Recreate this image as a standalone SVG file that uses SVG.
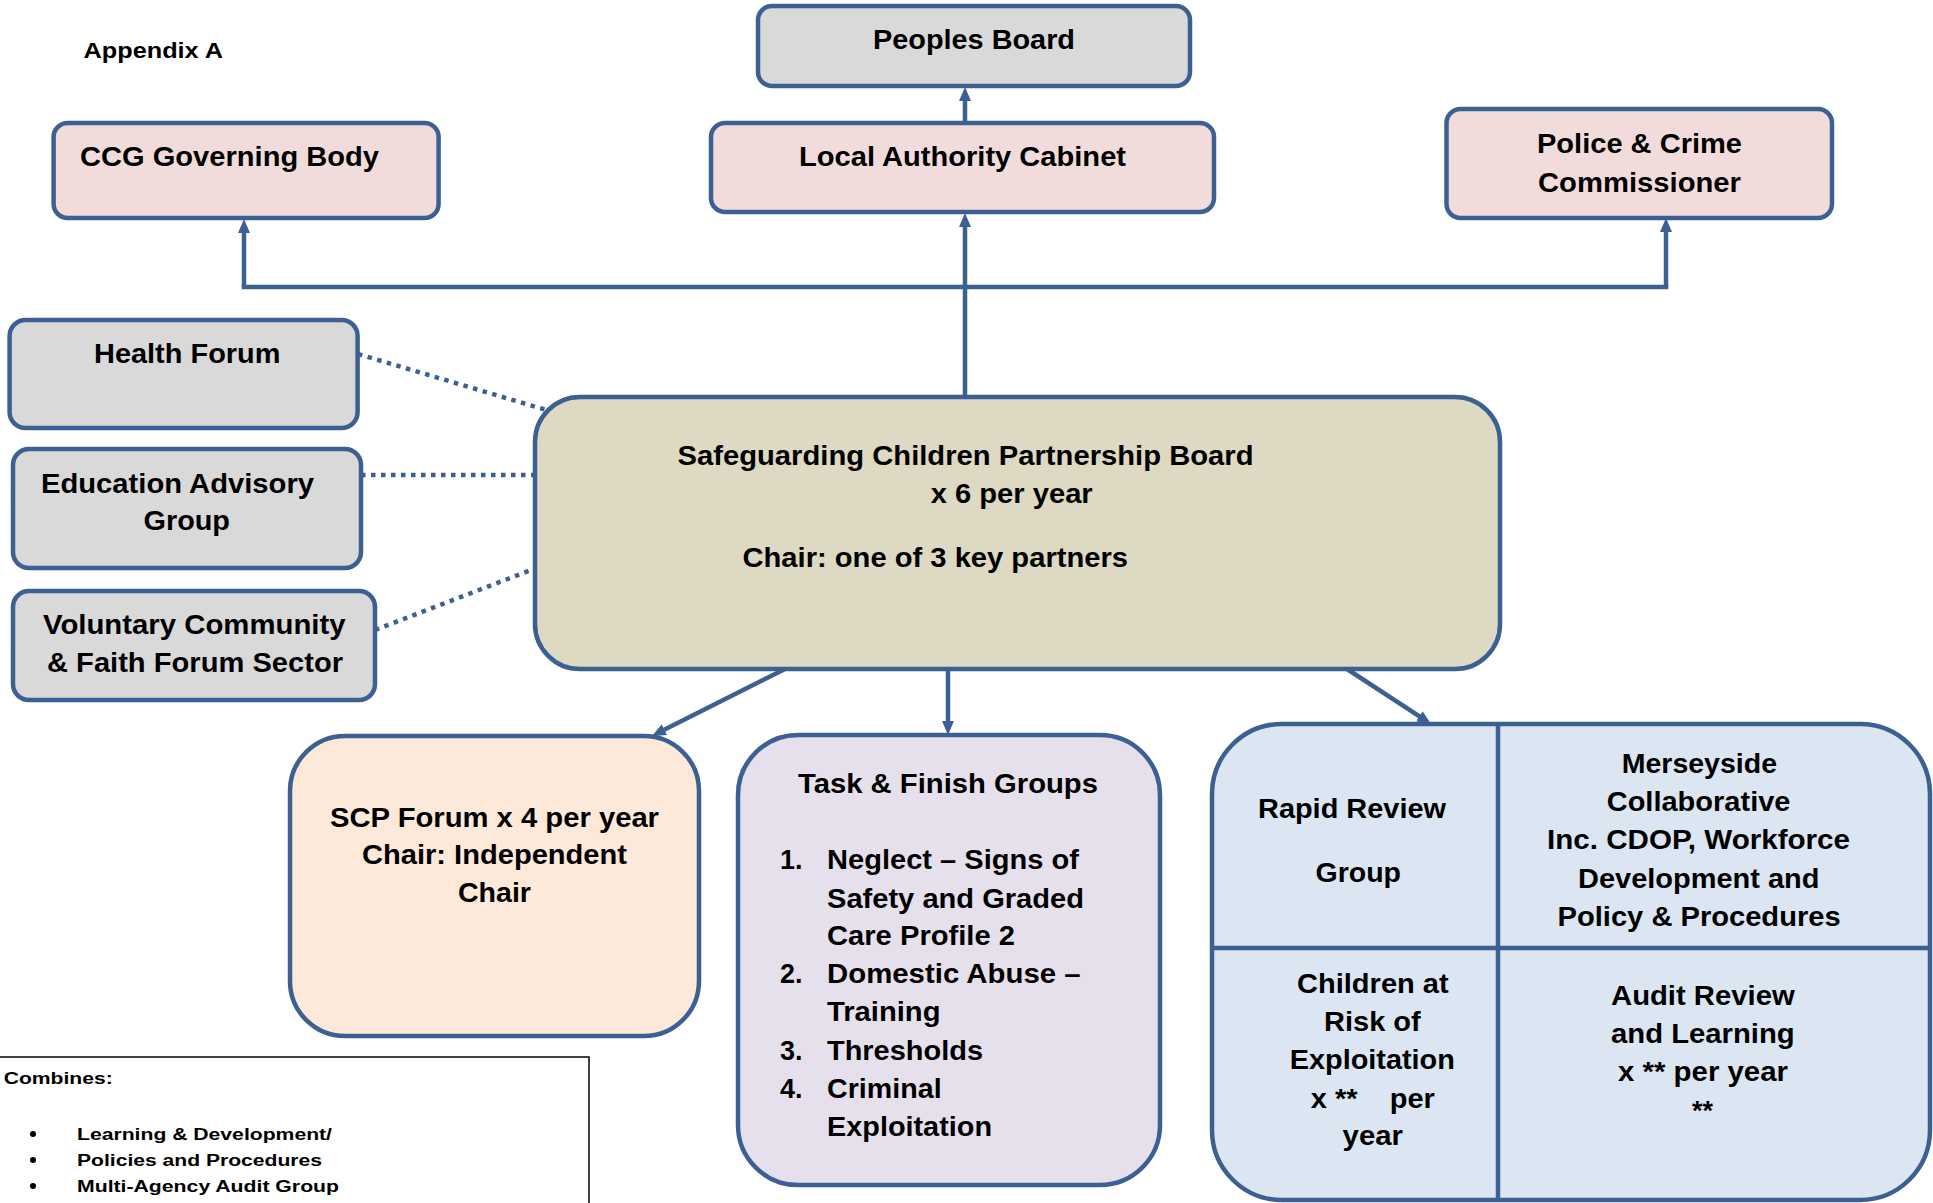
<svg xmlns="http://www.w3.org/2000/svg" width="1933" height="1203" viewBox="0 0 1933 1203">
<defs>
<style>
.box{stroke:#3B6091;stroke-width:4.5}
.pink{fill:#F2DCDB}
.grey{fill:#D9D9D9}
.tan{fill:#DDD9C3}
.peach{fill:#FDE9D9}
.lav{fill:#E6E0EC}
.blue{fill:#DCE6F2}
text{font-family:"Liberation Sans",Arial,sans-serif;font-weight:bold;fill:#000}
.t{font-size:27px}
.s{font-size:16px}
.bul{fill:#000}
.con{fill:none;stroke:#3B6091;stroke-width:4.5}
.dot{fill:none;stroke:#3B6091;stroke-width:4.5;stroke-dasharray:4.5 5.5}
</style>
<marker id="arr" markerUnits="userSpaceOnUse" markerWidth="14" markerHeight="12" refX="2" refY="6" orient="auto">
<path d="M0,0 L14,6 L0,12 Z" fill="#3B6091"/>
</marker>
</defs>
<rect width="1933" height="1203" fill="#FFFFFF"/>
<text x="83.5" y="58" style="font-size:22px" textLength="139.5" lengthAdjust="spacingAndGlyphs">Appendix A</text>

<g id="connectors">
<path class="con" d="M965,123 V99" marker-end="url(#arr)"/>
<path class="con" d="M965,397 V225" marker-end="url(#arr)"/>
<path class="con" d="M244,287 H1666" style="stroke-linecap:square"/>
<path class="con" d="M244,287 V231" marker-end="url(#arr)"/>
<path class="con" d="M1666,287 V230" marker-end="url(#arr)"/>
<path class="dot" d="M358,354 L553,412"/>
<path class="dot" d="M361,475 L533,475"/>
<path class="dot" d="M375,630 L531,570"/>
<path class="con" d="M785,669 L662.7,730.6" marker-end="url(#arr)"/>
<path class="con" d="M948,665 V723" marker-end="url(#arr)"/>
<path class="con" d="M1347,669 L1421,717.4" marker-end="url(#arr)"/>
</g>

<g id="peoples-board">
<rect class="box grey" x="758" y="6" width="432" height="80" rx="14"/>
<text class="t" x="873" y="49" textLength="202" lengthAdjust="spacingAndGlyphs">Peoples Board</text>
</g>
<g id="ccg-governing-body">
<rect class="box pink" x="53.6" y="123" width="385" height="95" rx="14"/>
<text class="t" x="80" y="166" textLength="299" lengthAdjust="spacingAndGlyphs">CCG Governing Body</text>
</g>
<g id="local-authority-cabinet">
<rect class="box pink" x="711" y="123" width="503" height="89" rx="14"/>
<text class="t" x="799" y="166" textLength="327" lengthAdjust="spacingAndGlyphs">Local Authority Cabinet</text>
</g>
<g id="police-crime-commissioner">
<rect class="box pink" x="1446.5" y="109" width="385.5" height="109" rx="14"/>
<text class="t" x="1537" y="153" textLength="205" lengthAdjust="spacingAndGlyphs">Police &amp; Crime</text>
<text class="t" x="1538" y="192" textLength="203" lengthAdjust="spacingAndGlyphs">Commissioner</text>
</g>
<g id="health-forum">
<rect class="box grey" x="9.6" y="320" width="348" height="108" rx="16"/>
<text class="t" x="94" y="363" textLength="186.5" lengthAdjust="spacingAndGlyphs">Health Forum</text>
</g>
<g id="education-advisory-group">
<rect class="box grey" x="13" y="449" width="348" height="119" rx="16"/>
<text class="t" x="41" y="493" textLength="273" lengthAdjust="spacingAndGlyphs">Education Advisory</text>
<text class="t" x="143.5" y="530" textLength="86.5" lengthAdjust="spacingAndGlyphs">Group</text>
</g>
<g id="voluntary-community">
<rect class="box grey" x="13" y="591" width="362" height="109" rx="16"/>
<text class="t" x="43" y="634" textLength="302.6" lengthAdjust="spacingAndGlyphs">Voluntary Community</text>
<text class="t" x="47" y="672" textLength="296" lengthAdjust="spacingAndGlyphs">&amp; Faith Forum Sector</text>
</g>
<g id="scp-board">
<rect class="box tan" x="535" y="397" width="965" height="272" rx="45"/>
<text class="t" x="677.5" y="465" textLength="576" lengthAdjust="spacingAndGlyphs">Safeguarding Children Partnership Board</text>
<text class="t" x="930.7" y="503" textLength="162" lengthAdjust="spacingAndGlyphs">x 6 per year</text>
<text class="t" x="742.5" y="567" textLength="385.5" lengthAdjust="spacingAndGlyphs">Chair: one of 3 key partners</text>
</g>
<g id="scp-forum">
<rect class="box peach" x="290" y="736" width="409" height="300" rx="55"/>
<text class="t" x="330" y="827" textLength="329" lengthAdjust="spacingAndGlyphs">SCP Forum x 4 per year</text>
<text class="t" x="362" y="864" textLength="265" lengthAdjust="spacingAndGlyphs">Chair: Independent</text>
<text class="t" x="458" y="902" textLength="73" lengthAdjust="spacingAndGlyphs">Chair</text>
</g>
<g id="task-finish-groups">
<rect class="box lav" x="738" y="735" width="422" height="450" rx="60"/>
<text class="t" x="798" y="793" textLength="300" lengthAdjust="spacingAndGlyphs">Task &amp; Finish Groups</text>
<text class="t" x="780" y="869">1.</text>
<text class="t" x="827" y="869" textLength="252" lengthAdjust="spacingAndGlyphs">Neglect – Signs of</text>
<text class="t" x="827" y="908" textLength="257" lengthAdjust="spacingAndGlyphs">Safety and Graded</text>
<text class="t" x="827" y="945" textLength="188" lengthAdjust="spacingAndGlyphs">Care Profile 2</text>
<text class="t" x="780" y="983">2.</text>
<text class="t" x="827" y="983" textLength="253.6" lengthAdjust="spacingAndGlyphs">Domestic Abuse –</text>
<text class="t" x="827" y="1021" textLength="113.5" lengthAdjust="spacingAndGlyphs">Training</text>
<text class="t" x="780" y="1060">3.</text>
<text class="t" x="827" y="1060" textLength="156" lengthAdjust="spacingAndGlyphs">Thresholds</text>
<text class="t" x="780" y="1098">4.</text>
<text class="t" x="827" y="1098" textLength="114.6" lengthAdjust="spacingAndGlyphs">Criminal</text>
<text class="t" x="827" y="1136" textLength="165" lengthAdjust="spacingAndGlyphs">Exploitation</text>
</g>
<g id="review-groups">
<rect class="box blue" x="1212" y="724" width="718" height="476" rx="70"/>
<path class="box" d="M1498,724 V1200 M1212,948 H1930" fill="none"/>
<text class="t" x="1258" y="818" textLength="188" lengthAdjust="spacingAndGlyphs">Rapid Review</text>
<text class="t" x="1315.5" y="882" textLength="85.5" lengthAdjust="spacingAndGlyphs">Group</text>
<text class="t" x="1621.7" y="773" textLength="155.3" lengthAdjust="spacingAndGlyphs">Merseyside</text>
<text class="t" x="1606.7" y="811" textLength="183.8" lengthAdjust="spacingAndGlyphs">Collaborative</text>
<text class="t" x="1547" y="849" textLength="303" lengthAdjust="spacingAndGlyphs">Inc. CDOP, Workforce</text>
<text class="t" x="1578" y="888" textLength="241.5" lengthAdjust="spacingAndGlyphs">Development and</text>
<text class="t" x="1557.6" y="926" textLength="283" lengthAdjust="spacingAndGlyphs">Policy &amp; Procedures</text>
<text class="t" x="1297" y="993" textLength="151.7" lengthAdjust="spacingAndGlyphs">Children at</text>
<text class="t" x="1324" y="1031" textLength="96.7" lengthAdjust="spacingAndGlyphs">Risk of</text>
<text class="t" x="1289.8" y="1069" textLength="165" lengthAdjust="spacingAndGlyphs">Exploitation</text>
<text class="t" x="1310.8" y="1108" xml:space="preserve" textLength="124" lengthAdjust="spacingAndGlyphs">x **    per</text>
<text class="t" x="1342.6" y="1145" textLength="60.4" lengthAdjust="spacingAndGlyphs">year</text>
<text class="t" x="1611" y="1005" textLength="183.7" lengthAdjust="spacingAndGlyphs">Audit Review</text>
<text class="t" x="1611" y="1043" textLength="183.7" lengthAdjust="spacingAndGlyphs">and Learning</text>
<text class="t" x="1618" y="1081" textLength="170" lengthAdjust="spacingAndGlyphs">x ** per year</text>
<text class="t" x="1692" y="1120" textLength="21" lengthAdjust="spacingAndGlyphs">**</text>
</g>
<g id="combines-legend">
<rect x="-2" y="1057" width="591" height="170" fill="#FFFFFF" stroke="#000000" stroke-width="1.5"/>
<text x="3.7" y="1084" style="font-size:17px" textLength="109" lengthAdjust="spacingAndGlyphs">Combines:</text>
<circle class="bul" cx="33" cy="1134" r="3"/>
<text class="s" x="77" y="1140" textLength="255" lengthAdjust="spacingAndGlyphs">Learning &amp; Development/</text>
<circle class="bul" cx="33" cy="1160" r="3"/>
<text class="s" x="77" y="1166" textLength="245" lengthAdjust="spacingAndGlyphs">Policies and Procedures</text>
<circle class="bul" cx="33" cy="1186" r="3"/>
<text class="s" x="77" y="1192" textLength="262" lengthAdjust="spacingAndGlyphs">Multi-Agency Audit Group</text>
</g>
</svg>
